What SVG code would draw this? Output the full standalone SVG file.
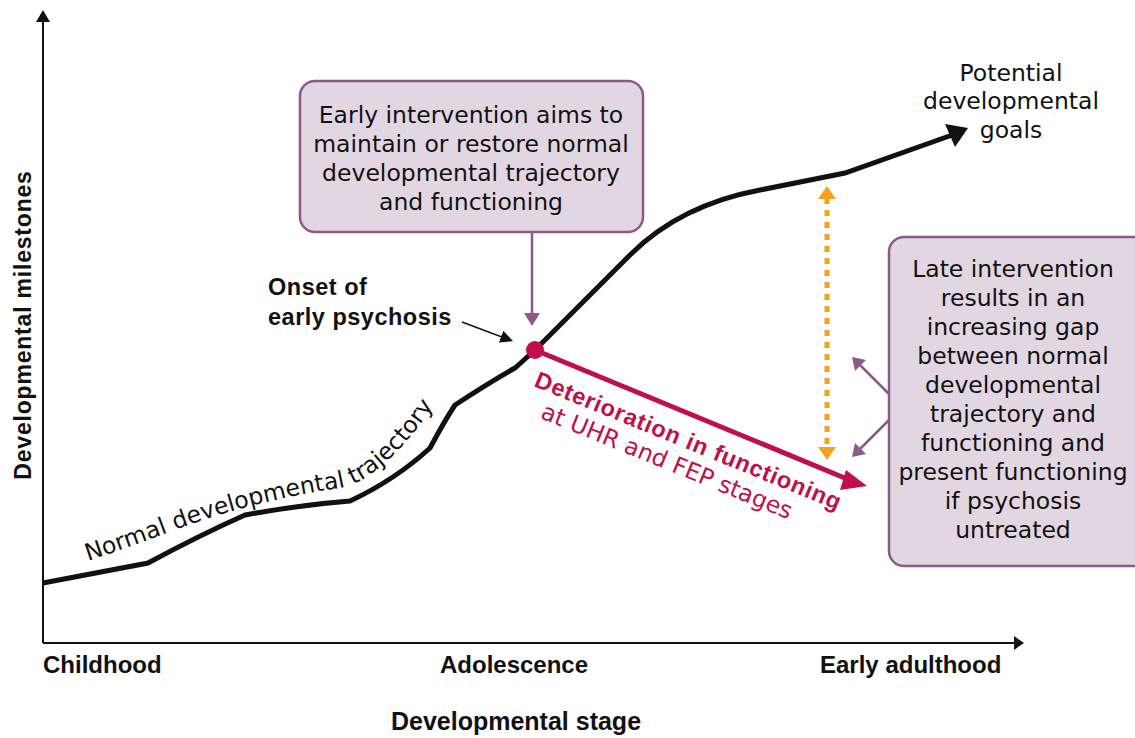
<svg xmlns="http://www.w3.org/2000/svg" width="1135" height="738" viewBox="0 0 1135 738">
<style>
.t{font-family:"DejaVu Sans","Liberation Sans",sans-serif;font-size:23.5px;fill:#111}
.c{text-anchor:middle}
.b{font-family:"Liberation Sans",Arial,sans-serif;font-weight:bold;font-size:23.5px;letter-spacing:0.5px;fill:#111}
.n{font-family:"Liberation Sans",Arial,sans-serif;font-weight:bold;font-size:24px;fill:#111}
.box{fill:#e3d6e3;stroke:#8b5a86;stroke-width:2.5}
.pl{stroke:#8b5a86;stroke-width:2.5;fill:none}
.r{fill:#c0104a}
</style>
<defs>
<marker id="ah" markerWidth="8" markerHeight="8" refX="6" refY="4" orient="auto" markerUnits="strokeWidth"><path d="M0,0 L8,4 L0,8 z" fill="#111"/></marker>
</defs>
<g id="axes">
<line x1="43" y1="22" x2="43" y2="643" stroke="#111" stroke-width="2"/>
<path d="M36,22 L43,10 L50,22 z" fill="#111"/>
<line x1="43" y1="643" x2="1014" y2="643" stroke="#111" stroke-width="2"/>
<path d="M1014,636 L1024,643 L1014,650 z" fill="#111"/>
<text class="n" x="43" y="673">Childhood</text>
<text class="n" x="440" y="673">Adolescence</text>
<text class="n" x="820" y="673">Early adulthood</text>
<text class="n" x="516" y="730" text-anchor="middle" style="font-size:25px">Developmental stage</text>
<text class="b" x="0" y="0" transform="translate(31,325) rotate(-90)" text-anchor="middle" style="font-size:23px;letter-spacing:0.8px">Developmental milestones</text>
</g>
<g id="connectors">
<path d="M43,583 L148,563 Q200,535 245,515 Q300,505 350,501 Q395,480 430,448 Q445,420 455,405 Q490,382 515,368 L535,350 L630,255 Q680,205 760,190 L845,173 L955,134" fill="none" stroke="#111" stroke-width="5"/>
<path d="M945,124 L968,128 L955,147 z" fill="#111"/>
<line x1="535" y1="350" x2="852" y2="481" stroke="#c0104a" stroke-width="5"/>
<path d="M846,470 L867,486 L840,490 z" fill="#c0104a"/>
<circle cx="535" cy="350" r="9" fill="#c0104a"/>
<line x1="462" y1="322" x2="510" y2="340" stroke="#111" stroke-width="1.6" marker-end="url(#ah)"/>
<line class="pl" x1="532" y1="232" x2="532" y2="315"/>
<path d="M524,313 L532,326 L540,313 z" fill="#8b5a86"/>
<line x1="827" y1="198" x2="827" y2="447" stroke="#f5a21b" stroke-width="5" stroke-dasharray="6,6"/>
<path d="M818,199 L827,186 L836,199 z" fill="#f5a21b"/>
<path d="M818,447 L827,460 L836,447 z" fill="#f5a21b"/>
<line class="pl" x1="889" y1="394" x2="858" y2="363"/>
<path d="M852,357 L866,360 L855,371 z" fill="#8b5a86"/>
<line class="pl" x1="889" y1="420" x2="858" y2="451"/>
<path d="M852,457 L855,443 L866,454 z" fill="#8b5a86"/>
</g>
<g id="curve-label">
<path id="tp" d="M88,561 Q130,547 172,531 Q255,500 340,488 C372,483 415,440 448,382" fill="none"/>
<text class="t" font-size="22.5"><textPath href="#tp">Normal developmental trajectory</textPath></text>
</g>
<g id="onset">
<text class="b" x="268" y="295">Onset of</text>
<text class="b" x="268" y="325">early psychosis</text>
</g>
<g id="deterioration">
<g transform="translate(533,386) rotate(22.2)">
<text class="b r" x="0" y="0" style="letter-spacing:0.75px">Deterioration in functioning</text>
<text class="t r" x="18" y="27" font-size="22">at UHR and FEP stages</text>
</g>
</g>
<g id="early-box">
<rect class="box" x="300" y="81" width="343" height="151" rx="15"/>
<text class="t c" x="471" y="123">Early intervention aims to</text>
<text class="t c" x="471" y="152">maintain or restore normal</text>
<text class="t c" x="471" y="181">developmental trajectory</text>
<text class="t c" x="471" y="210">and functioning</text>
</g>
<g id="late-box">
<rect class="box" x="889" y="237" width="260" height="329" rx="15"/>
<text class="t c" x="1013" y="277">Late intervention</text>
<text class="t c" x="1013" y="306">results in an</text>
<text class="t c" x="1013" y="335">increasing gap</text>
<text class="t c" x="1013" y="364">between normal</text>
<text class="t c" x="1013" y="393">developmental</text>
<text class="t c" x="1013" y="422">trajectory and</text>
<text class="t c" x="1013" y="451">functioning and</text>
<text class="t c" x="1013" y="480">present functioning</text>
<text class="t c" x="1013" y="509">if psychosis</text>
<text class="t c" x="1013" y="538">untreated</text>
</g>
<g id="goals">
<text class="t c" x="1011" y="81" font-size="22">Potential</text>
<text class="t c" x="1011" y="109" font-size="22">developmental</text>
<text class="t c" x="1011" y="138" font-size="22">goals</text>
</g>
</svg>
